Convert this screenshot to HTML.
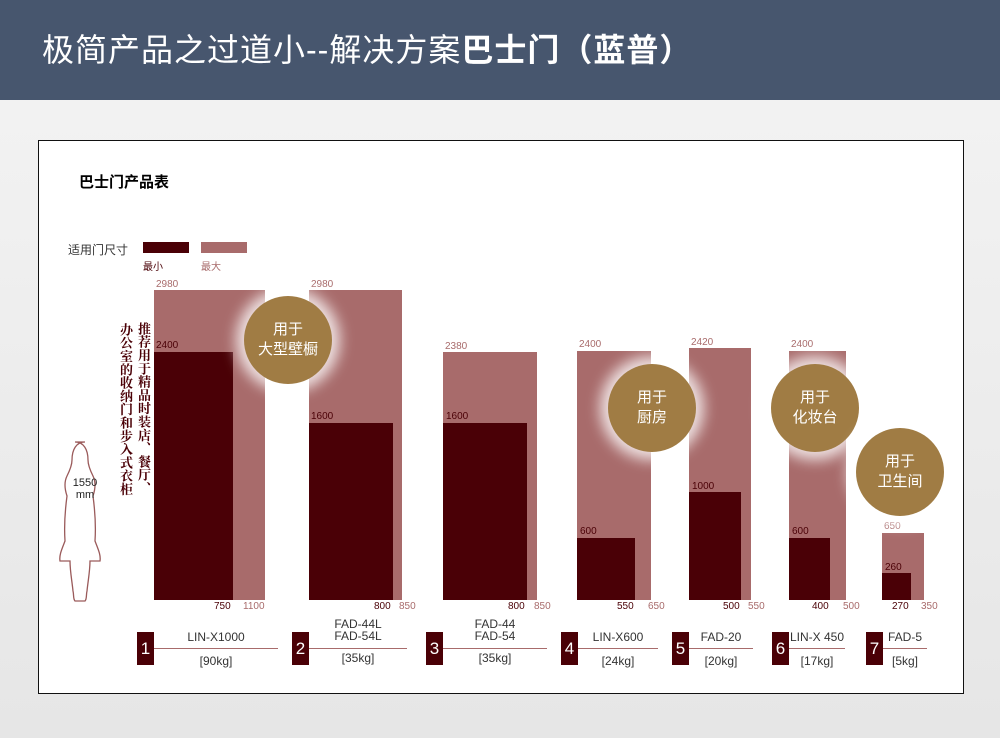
<!DOCTYPE html>
<html><head><meta charset="utf-8"><style>
*{margin:0;padding:0;box-sizing:border-box}
body{width:1000px;height:738px;overflow:hidden;position:relative;background:linear-gradient(#f4f4f4,#e6e6e6);font-family:"Liberation Sans","Noto Sans CJK SC",sans-serif}
.hd{position:absolute;left:0;top:0;width:1000px;height:100px;background:#47566e;color:#fff;font-size:32px;line-height:100px;padding-left:42px;letter-spacing:1px}
.panel{position:absolute;left:38px;top:140px;width:926px;height:554px;background:#fff;border:1.5px solid #111}
.a{position:absolute}
.d{background:#4a0006}
.l{background:#a86b6b}
.t{position:absolute;font-size:10px;color:#4a0006}
.tl{position:absolute;font-size:10px;color:#a86b6b}
.c{position:absolute;width:88px;height:88px;border-radius:50%;background:#a07c44;color:#fff;font-size:15px;text-align:center;display:flex;align-items:center;justify-content:center;line-height:20px;box-shadow:0 0 14px 8px rgba(255,255,255,.8)}
.n{position:absolute;width:17px;height:33px;background:#4a0006;color:#fff;font-size:17px;text-align:center;line-height:33px;top:632px}
.lb{position:absolute;font-size:12px;color:#333;text-align:center;top:630px}
.ln{position:absolute;height:1px;background:#a86b6b;top:648px}
.v{position:absolute;writing-mode:vertical-rl;font-family:"Noto Serif CJK SC",serif;font-weight:bold;font-size:13px;line-height:16px;letter-spacing:0.3px;color:#4a0006;white-space:nowrap}
</style></head><body>
<div class="hd">极简产品之过道小--解决方案<b>巴士门（蓝普）</b></div>
<div class="panel"></div>
<div class="a" style="left:79px;top:171px;font-size:15px;font-weight:bold">巴士门产品表</div>
<div class="a" style="left:68px;top:241px;font-size:12px;color:#333">适用门尺寸</div>
<div class="a d" style="left:143px;top:242px;width:46px;height:11px"></div>
<div class="a l" style="left:201px;top:242px;width:46px;height:11px"></div>
<div class="a" style="left:143px;top:258px;font-size:10px;color:#4a0006">最小</div>
<div class="a" style="left:201px;top:258px;font-size:10px;color:#a86b6b">最大</div>

<div class="v" style="left:136px;top:322px">推荐用于精品时装店、餐厅、</div>
<div class="v" style="left:118px;top:323px">办公室的收纳门和步入式衣柜</div>
<svg class="a" style="left:58px;top:440px" width="55" height="162" viewBox="0 0 55 162"><path d="M27 2c-9 0-13 8-13 18 0 6-3 12-5 16-3 6-2 14 0 20-2 15-3 30-2 45-3 8-6 14-5 20h10c0 10 2 20 3 30 1 4 0 8 2 10h10c2-2 1-6 2-10 1-10 3-20 3-30h10c1-6-2-12-5-20 1-15 0-30-2-45 2-6 3-14 0-20-2-4-5-10-5-16 0-10-4-18-13-18z" fill="none" stroke="#9a5a5a" stroke-width="1.3"/></svg>
<div class="a" style="left:70px;top:477px;font-size:11px;text-align:center;width:30px;color:#222">1550<br>mm</div>

<div class="a l" style="left:154px;top:290px;width:111px;height:310px"></div>
<div class="a d" style="left:154px;top:352px;width:79px;height:248px"></div>
<div class="a l" style="left:309px;top:290px;width:93px;height:310px"></div>
<div class="a d" style="left:309px;top:423px;width:84px;height:177px"></div>
<div class="a l" style="left:443px;top:352px;width:94px;height:248px"></div>
<div class="a d" style="left:443px;top:423px;width:84px;height:177px"></div>
<div class="a l" style="left:577px;top:351px;width:74px;height:249px"></div>
<div class="a d" style="left:577px;top:538px;width:58px;height:62px"></div>
<div class="a l" style="left:689px;top:348px;width:62px;height:252px"></div>
<div class="a d" style="left:689px;top:492px;width:52px;height:108px"></div>
<div class="a l" style="left:789px;top:351px;width:57px;height:249px"></div>
<div class="a d" style="left:789px;top:538px;width:41px;height:62px"></div>
<div class="a l" style="left:882px;top:533px;width:42px;height:67px"></div>
<div class="a d" style="left:882px;top:573px;width:29px;height:27px"></div>

<div class="tl" style="left:156px;top:279px">2980</div>
<div class="t" style="left:156px;top:340px">2400</div>
<div class="tl" style="left:311px;top:279px">2980</div>
<div class="t" style="left:311px;top:411px">1600</div>
<div class="tl" style="left:445px;top:341px">2380</div>
<div class="t" style="left:446px;top:411px">1600</div>
<div class="tl" style="left:579px;top:339px">2400</div>
<div class="t" style="left:580px;top:526px">600</div>
<div class="tl" style="left:691px;top:337px">2420</div>
<div class="t" style="left:692px;top:481px">1000</div>
<div class="tl" style="left:791px;top:339px">2400</div>
<div class="t" style="left:792px;top:526px">600</div>
<div class="tl" style="left:884px;top:521px">650</div>
<div class="t" style="left:885px;top:562px">260</div>

<div class="t" style="left:214px;top:601px">750</div><div class="tl" style="left:243px;top:601px">1100</div>
<div class="t" style="left:374px;top:601px">800</div><div class="tl" style="left:399px;top:601px">850</div>
<div class="t" style="left:508px;top:601px">800</div><div class="tl" style="left:534px;top:601px">850</div>
<div class="t" style="left:617px;top:601px">550</div><div class="tl" style="left:648px;top:601px">650</div>
<div class="t" style="left:723px;top:601px">500</div><div class="tl" style="left:748px;top:601px">550</div>
<div class="t" style="left:812px;top:601px">400</div><div class="tl" style="left:843px;top:601px">500</div>
<div class="t" style="left:892px;top:601px">270</div><div class="tl" style="left:921px;top:601px">350</div>

<div class="c" style="left:244px;top:296px">用于<br>大型壁橱</div>
<div class="c" style="left:608px;top:364px">用于<br>厨房</div>
<div class="c" style="left:771px;top:364px">用于<br>化妆台</div>
<div class="c" style="left:856px;top:428px">用于<br>卫生间</div>

<div class="n" style="left:137px">1</div><div class="ln" style="left:154px;width:124px"></div>
<div class="lb" style="left:154px;width:124px">LIN-X1000<br><span style="line-height:34px">[90kg]</span></div>
<div class="n" style="left:292px">2</div><div class="ln" style="left:309px;width:98px"></div>
<div class="lb" style="left:309px;width:98px;top:618px;line-height:12px">FAD-44L<br>FAD-54L<br><span style="display:block;margin-top:10px">[35kg]</span></div>
<div class="n" style="left:426px">3</div><div class="ln" style="left:443px;width:104px"></div>
<div class="lb" style="left:443px;width:104px;top:618px;line-height:12px">FAD-44<br>FAD-54<br><span style="display:block;margin-top:10px">[35kg]</span></div>
<div class="n" style="left:561px">4</div><div class="ln" style="left:578px;width:80px"></div>
<div class="lb" style="left:578px;width:80px">LIN-X600<br><span style="line-height:34px">[24kg]</span></div>
<div class="n" style="left:672px">5</div><div class="ln" style="left:689px;width:64px"></div>
<div class="lb" style="left:689px;width:64px">FAD-20<br><span style="line-height:34px">[20kg]</span></div>
<div class="n" style="left:772px">6</div><div class="ln" style="left:789px;width:56px"></div>
<div class="lb" style="left:789px;width:56px">LIN-X 450<br><span style="line-height:34px">[17kg]</span></div>
<div class="n" style="left:866px">7</div><div class="ln" style="left:883px;width:44px"></div>
<div class="lb" style="left:883px;width:44px">FAD-5<br><span style="line-height:34px">[5kg]</span></div>
</body></html>
